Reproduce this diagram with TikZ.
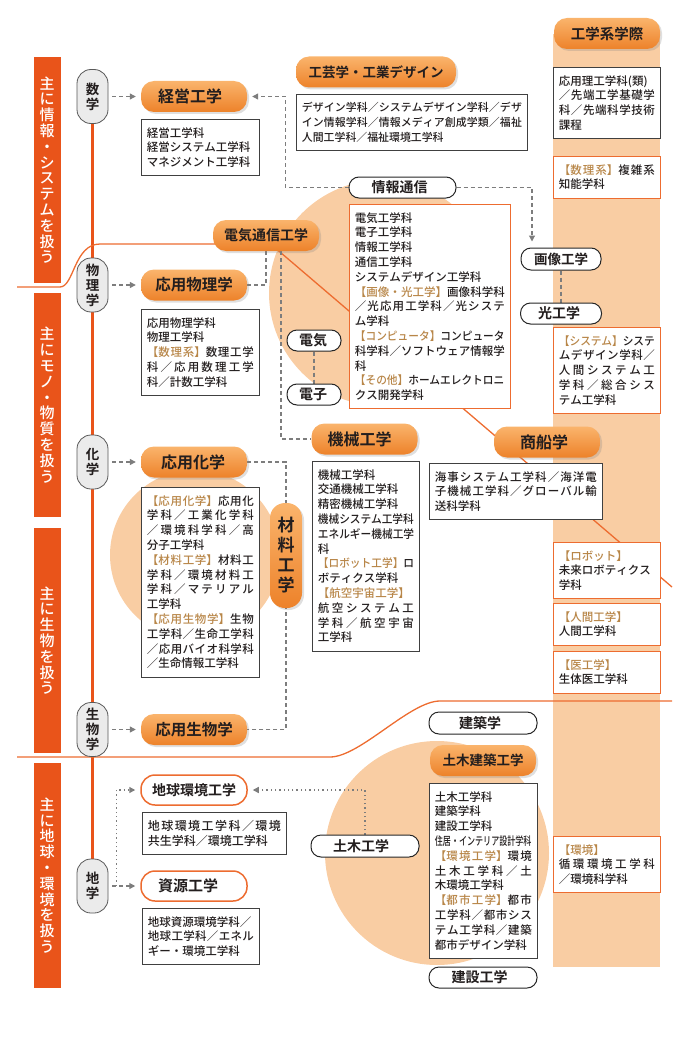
\documentclass[tikz,border=0pt]{standalone}
\usepackage{fontspec}
\usepackage{graphicx}
\setmainfont{Noto Sans CJK JP}[UprightFont=* Medium,BoldFont=* Bold]
\usetikzlibrary{positioning,arrows.meta,shadows}

\definecolor{barred}{RGB}{233,84,26}
\definecolor{lineor}{RGB}{237,108,48}
\definecolor{peach}{RGB}{249,205,163}
\definecolor{brk}{RGB}{184,134,72}
\definecolor{pilltop}{RGB}{250,180,108}
\definecolor{pillbot}{RGB}{237,130,42}
\definecolor{linkgray}{RGB}{125,125,125}
\definecolor{ink}{RGB}{35,30,30}

\XeTeXlinebreaklocale "ja"
\XeTeXlinebreakskip=0pt plus 3pt minus 0.5pt
\XeTeXlinebreakpenalty=10000

\newcommand\fs[1]{\fontsize{#1}{#1}\selectfont}
\newcommand\spr[2]{\makebox[#1][s]{#2}}
\newcommand\sq[2]{\scalebox{#1}[1]{#2}}
\newcommand\bk[1]{\textcolor{brk}{#1}}

\pgfdeclarelayer{bg}
\pgfdeclarelayer{links}
\pgfsetlayers{bg,links,main}

\begin{document}
\begin{tikzpicture}[x=1pt,y=-1pt,text=ink,
  bar/.style={fill=barred,text=white,minimum width=27pt,inner sep=0pt,align=center,font=\fontsize{15}{15.8}\selectfont},
  subj/.style={draw=black!65,fill=black!8,line width=0.8pt,rounded corners=14pt,minimum width=31pt,minimum height=54pt,inner sep=0pt,align=center,font=\bfseries\fontsize{13.5}{15}\selectfont},
  field/.style={top color=pilltop,bottom color=pillbot,rounded corners=13pt,minimum width=106pt,minimum height=31pt,inner sep=0pt,font=\bfseries\fs{16},drop shadow={shadow xshift=2pt,shadow yshift=-2pt,opacity=0.25}},
  ofield/.style={draw=lineor,fill=white,line width=1.5pt,rounded corners=14pt,minimum width=106pt,minimum height=30pt,inner sep=0pt,font=\bfseries\fs{15}},
  tag/.style={draw=black!85,fill=white,line width=1pt,rounded corners=10pt,minimum width=107pt,minimum height=21pt,inner sep=0pt,font=\bfseries\fs{14}},
  list/.style={draw=black!75,fill=white,line width=0.8pt,anchor=north west,inner xsep=5.5pt,inner ysep=8pt,align=justify,font=\fontsize{11.5}{14.8}\selectfont},
  olist/.style={list,draw=lineor},
  link/.style={draw=linkgray,line width=1.2pt,dash pattern=on 4pt off 3pt},
  dots/.style={draw=linkgray,line width=1.3pt,dash pattern=on 1.3pt off 3pt},
  arr/.style={-{Triangle[length=6pt,width=6pt]},shorten >=5pt}]
\useasboundingbox (0,0) rectangle (691,1038);

\begin{pgfonlayer}{bg}
\fill[peach] (382,293) circle[radius=113pt];
\fill[peach] (195,555) circle[radius=85pt];
\fill[peach] (437,853) circle[radius=112pt];
\fill[peach] (553,34) rectangle (660,967);
\end{pgfonlayer}

\node[bar,minimum height=226pt] (bInfo) at (47,170) {主\\に\\情\\報\\・\\シ\\ス\\テ\\ム\\を\\扱\\う};
\node[bar,minimum height=224pt] (bMono) at (47,405) {主\\に\\モ\\ノ\\・\\物\\質\\を\\扱\\う};
\node[bar,minimum height=225pt] (bBio) at (47,640.5) {主\\に\\生\\物\\を\\扱\\う};
\node[bar,minimum height=225pt] (bEarth) at (47,875.5) {主\\に\\地\\球\\・\\環\\境\\を\\扱\\う};

\node[subj] (sMath) at (92.5,96.5) {数\\学};
\node[subj] (sPhys) at (92.5,285) {物\\理\\学};
\node[subj] (sChem) at (92.5,462) {化\\学};
\node[subj] (sBio) at (92.5,729.5) {生\\物\\学};
\node[subj] (sGeo) at (92.5,886) {地\\学};

\node[field] (fMgmt) at (194,96.5) {\spr{72pt}{経営工学}};
\node[field] (fAppPhys) at (194,285) {\fs{15.5}応用物理学};
\node[field] (fAppChem) at (194,462) {\spr{66pt}{応用化学}};
\node[field] (fAppBio) at (194,729.5) {\fs{15.5}応用生物学};
\node[ofield] (fEarthEnv) at (194,790) {\fs{14}地球環境工学};
\node[ofield] (fResource) at (194,886) {\spr{72pt}{資源工学}};
\node[field] (fEE) at (266,235.5) {\fs{14}電気通信工学};
\node[field,minimum width=160pt] (fDesign) at (376,72) {\fs{13.5}工芸学・工業デザイン};
\node[field] (fInter) at (607,33.5) {\fs{14.5}工学系学際};
\node[field] (fMech) at (364.5,439) {\spr{74pt}{機械工学}};
\node[field] (fShip) at (547,442) {\spr{54pt}{商船学}};
\node[field,minimum width=32pt,minimum height=105pt,rounded corners=15pt,align=center,font=\bfseries\fontsize{17}{20}\selectfont] (fMat) at (286,555.5) {材\\料\\工\\学};
\node[field] (fCivArch) at (483,760.5) {\fs{13.5}土木建築工学};

\node[tag] (tInfo) at (402.5,187.5) {\spr{62pt}{情報通信}};
\node[tag,minimum width=80pt,minimum height=22pt] (tImage) at (561,259) {\fs{13.5}画像工学};
\node[tag,minimum width=81pt] (tOptics) at (561,313.5) {\spr{46pt}{光工学}};
\node[tag,minimum width=54pt] (tElec) at (314,340.5) {\spr{30pt}{電気}};
\node[tag,minimum width=54pt] (tElectron) at (314,394.5) {\spr{30pt}{電子}};
\node[tag,minimum width=108pt,minimum height=22pt] (tArch) at (483,723) {\spr{48pt}{建築学}};
\node[tag,minimum width=108pt,minimum height=22pt] (tCivil) at (365,846) {\spr{64pt}{土木工学}};
\node[tag,minimum width=108pt] (tConst) at (483,977.5) {\spr{63pt}{建設工学}};

\node[list,text width=107pt] (lMgmt) at (141,119) {経営工学科\newline
経営システム工学科\newline
マネジメント工学科};
\node[list,text width=220pt,font=\fontsize{10.9}{14.8}\selectfont] (lDesign) at (296,94) {デザイン学科／システムデザイン学科／デザ\linebreak
イン情報学科／情報メディア創成学類／福祉\linebreak
人間工学科／福祉環境工学科};
\node[list,text width=96pt] (lInter1) at (553,67) {応用理工学科(類)\newline
／先端工学基礎学\linebreak
科／先端科学技術\linebreak
課程};
\node[olist,text width=96pt] (lInter2) at (553,156) {\bk{【数理系】}複雑系\linebreak
知能学科};
\node[olist,text width=150pt] (lInfo) at (349,204) {電気工学科\newline
電子工学科\newline
情報工学科\newline
通信工学科\newline
システムデザイン工学科\newline
\bk{【画像・光工学】}画像科学科\linebreak
／光応用工学科／光システ\linebreak
ム学科\newline
\sq{0.93}{\bk{【コンピュータ】}コンピュータ}\newline
科学科／ソフトウェア情報学\linebreak
科\newline
\sq{0.93}{\bk{【その他】}ホームエレクトロニ}\newline
クス開発学科};
\node[olist,text width=96pt] (lSys) at (553,327) {\sq{0.93}{\bk{【システム】}システ}\newline
ムデザイン学科／\linebreak
人間システム工\linebreak
学科／総合シス\linebreak
テム工学科};
\node[list,text width=107pt] (lAppPhys) at (141,309) {応用物理学科\newline
物理工学科\newline
\bk{【数理系】}数理工学\linebreak
科／応用数理工学\linebreak
科／計数工学科};
\node[list,text width=107pt] (lAppChem) at (141,487) {\bk{【応用化学】}応用化\linebreak
学科／工業化学科\linebreak
／環境科学科／高\linebreak
分子工学科\newline
\bk{【材料工学】}材料工\linebreak
学科／環境材料工\linebreak
学科／マテリアル\linebreak
工学科\newline
\bk{【応用生物学】}生物\linebreak
工学科／生命工学科\linebreak
／応用バイオ科学科\linebreak
／生命情報工学科};
\node[list,text width=96pt] (lMech) at (312,461) {機械工学科\newline
交通機械工学科\newline
精密機械工学科\newline
\sq{0.93}{機械システム工学科}\newline
\sq{0.93}{エネルギー機械工学}\newline
科\newline
\sq{0.93}{\bk{【ロボット工学】}ロ}\newline
ボティクス学科\newline
\bk{【航空宇宙工学】}\newline
航空システム工\linebreak
学科／航空宇宙\linebreak
工学科};
\node[list,text width=162pt] (lShip) at (429,463) {海事システム工学科／海洋電\linebreak
子機械工学科／グローバル輸\linebreak
送科学科};
\node[olist,text width=96pt] (lRobot) at (553,542) {\bk{【ロボット】}\newline
未来ロボティクス\newline
学科};
\node[olist,text width=96pt] (lHuman) at (553,603) {\bk{【人間工学】}\newline
人間工学科};
\node[olist,text width=96pt] (lMed) at (553,651) {\bk{【医工学】}\newline
生体医工学科};
\node[list,text width=133pt,font=\fontsize{12}{14.8}\selectfont] (lEarthEnv) at (142,812) {地球環境工学科／環境\linebreak
共生学科／環境工学科};
\node[list,text width=106pt] (lResource) at (142,908) {地球資源環境学科／\newline
地球工学科／エネル\linebreak
ギー・環境工学科};
\node[list,text width=97pt] (lCivArch) at (429,783) {土木工学科\newline
建築学科\newline
建設工学科\newline
\sq{0.7}{住居・インテリア設計学科}\newline
\bk{【環境工学】}環境\linebreak
土木工学科／土\linebreak
木環境工学科\newline
\bk{【都市工学】}都市\linebreak
工学科／都市シス\linebreak
テム工学科／建築\linebreak
都市デザイン学科};
\node[olist,text width=96pt] (lEnv) at (553,836) {\bk{【環境】}\newline
循環環境工学科\linebreak
／環境科学科};

\begin{pgfonlayer}{links}
\draw[barred,line width=3pt] (sMath) -- (sGeo);
\draw[lineor,line width=1.3pt] (17,287) -- (60,287) .. controls (74,287) and (74,244) .. (100,244) -- (270.6,244) -- (672,587);
\draw[lineor,line width=1.3pt] (17,757) -- (330,757) .. controls (360,757) and (410,701) .. (440,701) -- (672,701);

\draw[link,arr,shorten <=4pt] (sMath) -- (fMgmt);
\draw[link,arr,shorten <=4pt] (sPhys) -- (fAppPhys);
\draw[link,arr,shorten <=4pt] (sChem) -- (fAppChem);
\draw[link,arr,shorten <=4pt] (sBio) -- (fAppBio);
\draw[link,arr,shorten <=4pt] (sGeo) -- (fResource);
\draw[dots,arr] ([xshift=8pt]sGeo.east) |- (fEarthEnv.west);
\draw[dots,arr] (tCivil.north) |- (fEarthEnv.east);

\draw[link,arr] (tInfo.west) -| ([xshift=38pt]fMgmt.east) -- (fMgmt.east);
\draw[link,arr,shorten >=6pt] (tInfo.east) -| ([xshift=-29pt]tImage.north);
\draw[link] (tImage) -- (tOptics);
\draw[link] (tElec) -- (tElectron);
\draw[link] (fAppPhys.east) -| (fEE.south);
\draw[link] ([xshift=15pt]fEE.south) |- (fMech.west);
\draw[link] (fAppChem.east) -| (fMat.center) |- (fAppBio.east);
\end{pgfonlayer}
\end{tikzpicture}
\end{document}
